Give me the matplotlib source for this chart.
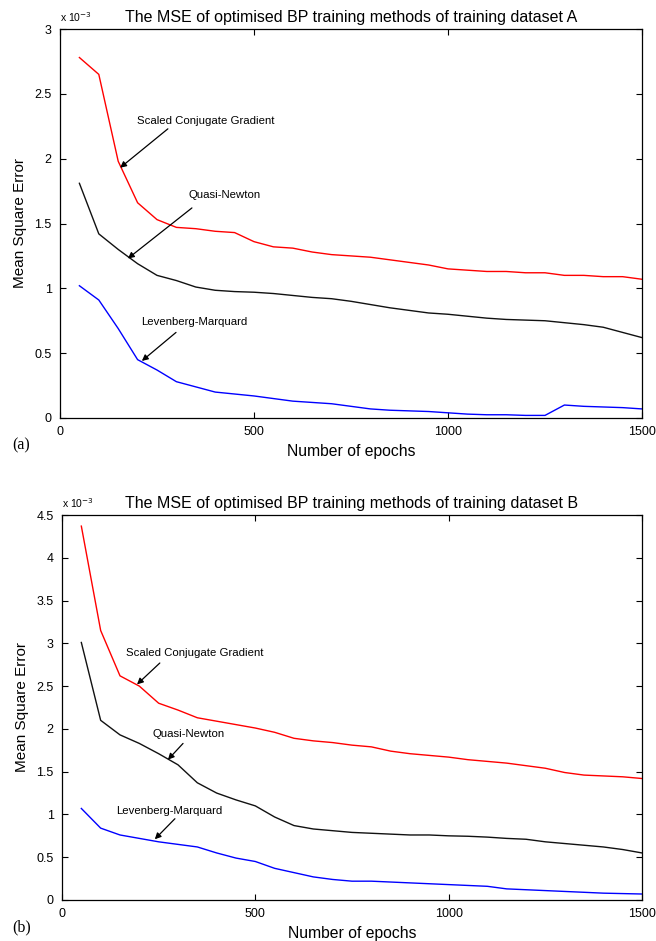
import matplotlib
matplotlib.use("Agg")
import matplotlib.pyplot as plt
import numpy as np

plt.rcParams['font.family'] = ['Liberation Sans', 'DejaVu Sans']

# ---------------- data (MSE values in units of 1e-3) ----------------
epochs = list(range(50, 1501, 50))

scg_a = [2.78, 2.65, 1.98, 1.66, 1.53, 1.47, 1.46, 1.44, 1.43, 1.36,
         1.32, 1.31, 1.28, 1.26, 1.25, 1.24, 1.22, 1.20, 1.18, 1.15,
         1.14, 1.13, 1.13, 1.12, 1.12, 1.10, 1.10, 1.09, 1.09, 1.07]
qn_a = [1.81, 1.42, 1.30, 1.19, 1.10, 1.06, 1.01, 0.985, 0.975, 0.97,
        0.96, 0.945, 0.93, 0.92, 0.90, 0.875, 0.85, 0.83, 0.81, 0.80,
        0.785, 0.77, 0.76, 0.755, 0.75, 0.735, 0.72, 0.70, 0.66, 0.62]
lm_a = [1.02, 0.91, 0.69, 0.45, 0.37, 0.28, 0.24, 0.20, 0.185, 0.17,
        0.15, 0.13, 0.12, 0.11, 0.09, 0.07, 0.06, 0.055, 0.05, 0.04,
        0.03, 0.025, 0.025, 0.02, 0.02, 0.10, 0.09, 0.085, 0.08, 0.07]

scg_b = [4.37, 3.15, 2.62, 2.50, 2.30, 2.22, 2.13, 2.09, 2.05, 2.01,
         1.96, 1.89, 1.86, 1.84, 1.81, 1.79, 1.74, 1.71, 1.69, 1.67,
         1.64, 1.62, 1.60, 1.57, 1.54, 1.49, 1.46, 1.45, 1.44, 1.42]
qn_b = [3.01, 2.10, 1.93, 1.83, 1.71, 1.58, 1.37, 1.25, 1.17, 1.10,
        0.97, 0.87, 0.83, 0.81, 0.79, 0.78, 0.77, 0.76, 0.76, 0.75,
        0.745, 0.735, 0.72, 0.71, 0.68, 0.66, 0.64, 0.62, 0.59, 0.55]
lm_b = [1.07, 0.84, 0.76, 0.72, 0.68, 0.65, 0.62, 0.55, 0.49, 0.45,
        0.37, 0.32, 0.27, 0.24, 0.22, 0.22, 0.21, 0.20, 0.19, 0.18,
        0.17, 0.16, 0.13, 0.12, 0.11, 0.10, 0.09, 0.08, 0.075, 0.07]

method_names = ["Scaled Conjugate Gradient", "Quasi-Newton", "Levenberg-Marquard"]
titles = ["The MSE of optimised BP training methods of training dataset A",
          "The MSE of optimised BP training methods of training dataset B"]
panel_labels = ["(a)", "(b)"]
x_ticks = [0, 500, 1000, 1500]
y_ticks_a = [0, 0.5, 1, 1.5, 2, 2.5, 3]
y_ticks_b = [0, 0.5, 1, 1.5, 2, 2.5, 3, 3.5, 4, 4.5]

# annotation positions: (text x, text y, arrow tail x, tail y, head x, head y)
ann_a = [(376, 2.29, 278, 2.23, 155, 1.93),
         (423, 1.72, 340, 1.62, 175, 1.23),
         (345, 0.74, 299, 0.66, 211, 0.44)]
ann_b = [(344, 2.89, 253, 2.77, 194, 2.52),
         (328, 1.94, 313, 1.83, 274, 1.64),
         (277, 1.04, 292, 0.95, 240, 0.71)]

W, H = 656, 941
fig = plt.figure(figsize=(W / 100, H / 100), dpi=100)


def make_axes(l, r, t, b):
    return fig.add_axes([l / W, 1 - b / H, (r - l) / W, (b - t) / H])


axA = make_axes(60, 642, 29, 418)
axB = make_axes(62, 642, 515, 900)

colors = ['#ff0000', '#111111', '#0000ff']

panels = [
    (axA, [scg_a, qn_a, lm_a], y_ticks_a, 3.0, ann_a, 418),
    (axB, [scg_b, qn_b, lm_b], y_ticks_b, 4.5, ann_b, 900),
]

for i, (ax, series, yt, ymax, anns, ybot) in enumerate(panels):
    for s, c in zip(series, colors):
        ax.plot(epochs, s, color=c, lw=1.0)
    ax.set_xlim(0, 1500)
    ax.set_ylim(0, ymax)
    ax.set_xticks(x_ticks)
    ax.set_yticks(yt)
    ax.set_xticklabels([str(v) for v in x_ticks])
    ax.set_yticklabels([('%g' % v) for v in yt])
    ax.tick_params(direction='in', top=True, right=True, length=4,
                   labelsize=9, width=0.8, pad=6)
    for sp in ax.spines.values():
        sp.set_linewidth(0.9)
    ax.set_title(titles[i], fontsize=11.5, pad=5)
    ax.set_xlabel("Number of epochs", fontsize=11.3, labelpad=4)
    ax.set_ylabel("Mean Square Error", fontsize=11, labelpad=5)
    ax.text(0.0, 1.012, r'x 10$^{-3}$', transform=ax.transAxes,
            fontsize=7.5, ha='left', va='bottom')
    for name, (tx, ty, ax0, ay0, hx, hy) in zip(method_names, anns):
        ax.text(tx, ty, name, fontsize=8.2, ha='center', va='center')
        ax.annotate('', xy=(hx, hy), xytext=(ax0, ay0),
                    arrowprops=dict(arrowstyle='-|>', color='black',
                                    lw=0.9, mutation_scale=9,
                                    shrinkA=0, shrinkB=0))
    fig.text(12 / W, 1 - (ybot + 27) / H, panel_labels[i],
             family='Liberation Serif', fontsize=11.5, ha='left', va='center')

fig.savefig("out.png", dpi=100)
